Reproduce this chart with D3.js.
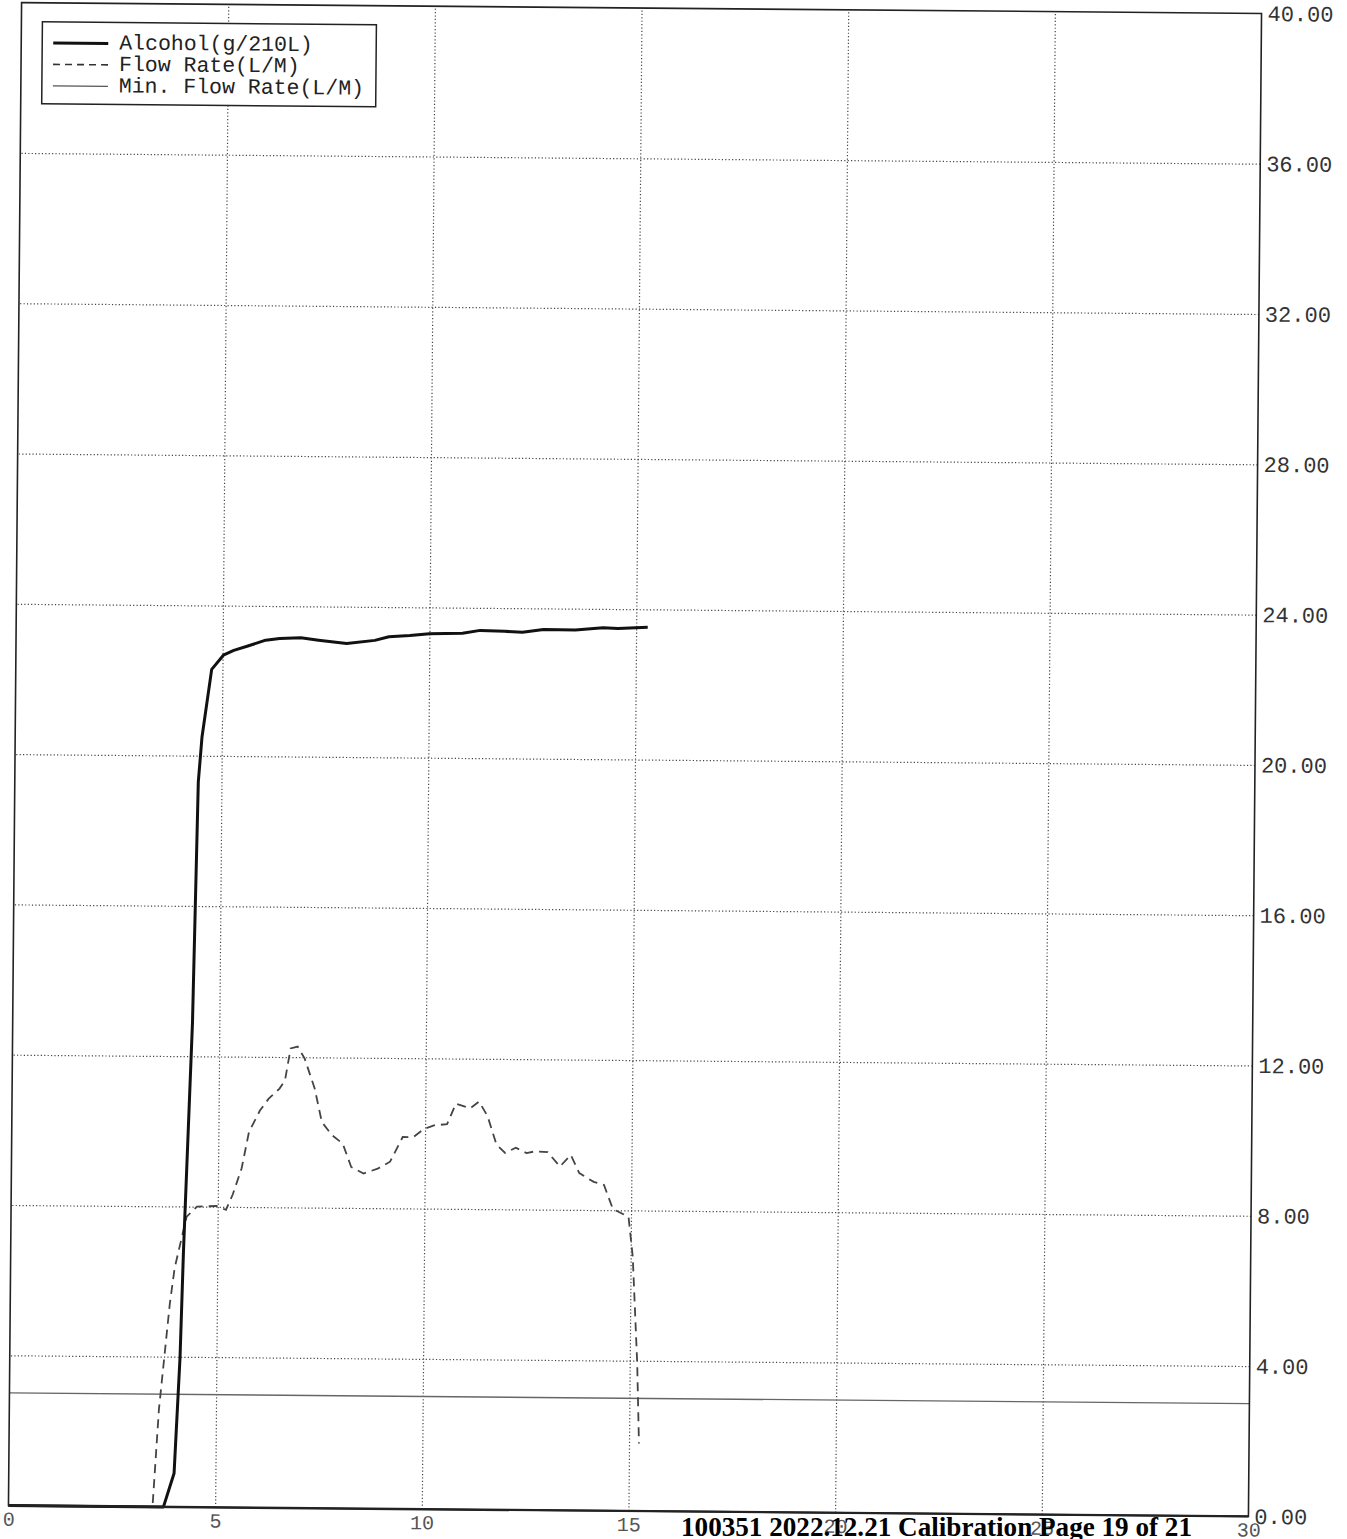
<!DOCTYPE html>
<html>
<head>
<meta charset="utf-8">
<script src="https://cdn.jsdelivr.net/npm/d3@7"></script>
<style>
  body { margin: 0; background: #fff; }
  .grid line { stroke: #444; stroke-width: 1.2; stroke-dasharray: 1.2,2.2; }
  .grid .domain { display: none; }
  .lbl text { font-family: "Liberation Mono", "Courier New", monospace; fill: #333; }
  .lbl .domain { display: none; }
</style>
</head>
<body>
<script>
// time (s) on x, values on y
const xTicks = [0, 5, 10, 15, 20, 25, 30];
const yTicks = [0, 4, 8, 12, 16, 20, 24, 28, 32, 36, 40];

const alcoholTime = [0, 3.75, 4.0, 4.12, 4.18, 4.35, 4.44, 4.52, 4.74, 5.02, 5.27, 5.61, 6.04, 6.38, 6.89, 7.32, 8.0, 8.68, 9.02, 9.53, 10.0, 10.8, 11.23, 11.82, 12.25, 12.76, 13.53, 14.2, 14.56, 15.28];
const alcoholValue = [0, 0, 0.9, 4.0, 6.8, 12.9, 19.3, 20.5, 22.3, 22.68, 22.81, 22.93, 23.09, 23.14, 23.16, 23.1, 23.02, 23.11, 23.21, 23.25, 23.3, 23.32, 23.4, 23.38, 23.36, 23.44, 23.43, 23.5, 23.48, 23.52];

const flowTime = [3.49, 3.62, 3.74, 3.86, 3.97, 4.08, 4.25, 4.5, 4.97, 5.2, 5.36, 5.57, 5.74, 6.0, 6.21, 6.47, 6.6, 6.73, 6.9, 7.07, 7.32, 7.5, 7.75, 8.01, 8.22, 8.52, 8.86, 9.16, 9.46, 9.72, 9.97, 10.23, 10.53, 10.74, 11.09, 11.3, 11.51, 11.73, 11.94, 12.2, 12.46, 12.67, 12.97, 13.27, 13.53, 13.74, 14.09, 14.34, 14.56, 14.94, 15.05, 15.18, 15.24];
const flowValue = [0.1, 2.6, 4.0, 5.4, 6.36, 6.9, 7.73, 8.0, 8.02, 7.92, 8.33, 9.03, 10.0, 10.57, 10.89, 11.16, 11.38, 12.23, 12.28, 11.97, 11.17, 10.28, 9.93, 9.71, 9.09, 8.92, 9.05, 9.24, 9.9, 9.9, 10.12, 10.22, 10.25, 10.8, 10.68, 10.86, 10.47, 9.72, 9.5, 9.64, 9.5, 9.55, 9.53, 9.15, 9.46, 8.98, 8.75, 8.67, 8.03, 7.83, 6.77, 3.95, 1.8];

const minFlowRate = 3.0;

const legendLabels = ["Alcohol(g/210L)", "Flow Rate(L/M)", "Min. Flow Rate(L/M)"];
const footerText = "100351 2022.12.21 Calibration Page 19 of 21";

main();

function main() {
  setupCanvasSize();
  appendSvg("body");
  setupXScale();
  setupYScale();
  appendGrid();
  appendLines();
  appendFrame();
  appendLabels();
  addLegend();
  addFooter();
}

function setupCanvasSize() {
  margin = { top: 8, left: 15 };
  width = 1240;
  height = 1503;
}

function appendSvg(domElement) {
  root = d3.select(domElement).append("svg")
    .attr("width", 1347)
    .attr("height", 1539);
  // the scanned page is slightly tilted
  svg = root.append("g")
    .attr("transform", `rotate(0.5, ${margin.left + width / 2}, ${margin.top + height / 2}) translate(${margin.left}, ${margin.top})`);
}

function setupXScale() {
  x = d3.scaleLinear().domain([0, 30]).range([0, width]);
}

function setupYScale() {
  y = d3.scaleLinear().domain([0, 40]).range([height, 0]);
}

function appendGrid() {
  svg.append("g")
    .attr("class", "grid")
    .attr("transform", `translate(0, ${height})`)
    .call(d3.axisBottom(x).tickValues(xTicks.slice(1, -1)).tickSize(-height).tickFormat(""));
  svg.append("g")
    .attr("class", "grid")
    .attr("transform", `translate(${width}, 0)`)
    .call(d3.axisRight(y).tickValues(yTicks.slice(1, -1)).tickSize(-width).tickFormat(""));
}

function appendLines() {
  // min flow rate
  svg.append("line")
    .attr("x1", x(0)).attr("x2", x(30))
    .attr("y1", y(minFlowRate)).attr("y2", y(minFlowRate))
    .attr("stroke", "#666")
    .attr("stroke-width", 1.4);

  var flowLine = d3.line()
    .x(function (d, i) { return x(flowTime[i]); })
    .y(function (d) { return y(d); });
  svg.append("path")
    .datum(flowValue)
    .attr("d", flowLine)
    .attr("fill", "none")
    .attr("stroke", "#444")
    .attr("stroke-width", 1.8)
    .attr("stroke-dasharray", "9,6");

  var alcoholLine = d3.line()
    .x(function (d, i) { return x(alcoholTime[i]); })
    .y(function (d) { return y(d); });
  svg.append("path")
    .datum(alcoholValue)
    .attr("d", alcoholLine)
    .attr("fill", "none")
    .attr("stroke", "#111")
    .attr("stroke-width", 3)
    .attr("stroke-linejoin", "round");
}

function appendFrame() {
  svg.append("rect")
    .attr("width", width)
    .attr("height", height)
    .attr("fill", "none")
    .attr("stroke", "#222")
    .attr("stroke-width", 1.6);
  svg.append("line")
    .attr("x1", 0).attr("x2", width)
    .attr("y1", height).attr("y2", height)
    .attr("stroke", "#222")
    .attr("stroke-width", 2.4);
}

function appendLabels() {
  svg.append("g")
    .attr("class", "lbl")
    .attr("transform", `translate(0, ${height})`)
    .call(d3.axisBottom(x).tickValues(xTicks).tickSize(0).tickPadding(6).tickFormat(d3.format("d")))
    .selectAll("text")
    .style("font-size", "20px")
    .style("fill", "#555");
  svg.append("g")
    .attr("class", "lbl")
    .attr("transform", `translate(${width}, 0)`)
    .call(d3.axisRight(y).tickValues(yTicks).tickSize(0).tickPadding(6).tickFormat(d3.format(".2f")))
    .selectAll("text")
    .style("font-size", "22px");
}

function addLegend() {
  var lg = svg.append("g").attr("transform", "translate(21, 19)");
  lg.append("rect")
    .attr("width", 334)
    .attr("height", 82)
    .attr("fill", "#fff")
    .attr("stroke", "#222")
    .attr("stroke-width", 1.5);
  var styles = [
    { w: 3, dash: null, c: "#111" },
    { w: 1.6, dash: "7,5", c: "#333" },
    { w: 1.2, dash: null, c: "#555" }
  ];
  legendLabels.forEach(function (label, i) {
    var yy = 21 + i * 21.5;
    lg.append("line")
      .attr("x1", 11).attr("x2", 66)
      .attr("y1", yy).attr("y2", yy)
      .attr("stroke", styles[i].c)
      .attr("stroke-width", styles[i].w)
      .attr("stroke-dasharray", styles[i].dash);
    lg.append("text")
      .attr("x", 77)
      .attr("y", yy + 6)
      .style("font-family", "'Liberation Mono', 'Courier New', monospace")
      .style("font-size", "21.5px")
      .style("fill", "#222")
      .text(label);
  });
}

function addFooter() {
  root.append("text")
    .attr("x", 681)
    .attr("y", 1536)
    .attr("textLength", 511)
    .attr("lengthAdjust", "spacingAndGlyphs")
    .style("font-family", "'Liberation Serif', 'Times New Roman', serif")
    .style("font-weight", "bold")
    .style("font-size", "27px")
    .style("fill", "#000")
    .text(footerText);
}
</script>
</body>
</html>
